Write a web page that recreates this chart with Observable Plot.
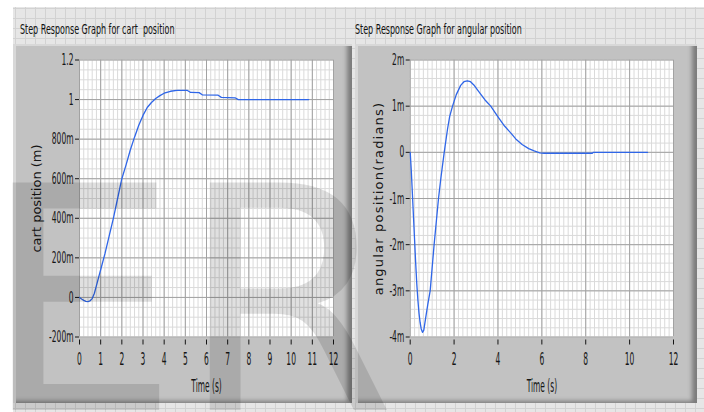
<!DOCTYPE html>
<html>
<head>
<meta charset="utf-8">
<script src="https://cdn.jsdelivr.net/npm/d3@7"></script>
<script src="https://cdn.jsdelivr.net/npm/@observablehq/plot@0.6"></script>
<style>
  html, body { margin: 0; padding: 0; background: #fff; }
  #board { position: relative; width: 704px; height: 412px; overflow: hidden; background: #fff; font-family: "DejaVu Sans", sans-serif; }
  #backdrop { position: absolute; left: 13px; top: 7px; width: 691px; height: 405px; background-color: #e6e6e6;
    background-image: linear-gradient(to right, #d2d2d2 1px, transparent 1px), linear-gradient(to bottom, #d2d2d2 1px, transparent 1px);
    background-size: 10px 10px; background-position: 2px 1px; }
  .frame { position: absolute; top: 44px; height: 359px; background: #c2c2c2;
    box-shadow: inset 4px 3px 0 -1px #d8d8d8, inset -7px -4px 4px -2px #7c7c7c; }
  .frame svg { position: absolute; left: 0; top: 0; }
  #titles, #mark { position: absolute; left: 0; top: 0; pointer-events: none; }
  #titles text { white-space: pre; }
</style>
</head>
<body>
<div id="board">
  <div id="backdrop"></div>
  <div class="frame" id="cartFrame" style="left:13px;width:339px"></div>
  <div class="frame" id="angleFrame" style="left:355px;width:342px"></div>
  <svg id="titles" width="704" height="412" font-family="DejaVu Sans" font-size="14" fill="#111">
    <text x="20" y="34">Step Response Graph for cart  position</text>
    <text x="355" y="34">Step Response Graph for angular position</text>
  </svg>
  <svg id="mark" width="704" height="412">
    <text x="-18" y="410" font-family="DejaVu Sans" font-size="312" fill="#000" fill-opacity="0.12">ER</text>
  </svg>
</div>
<script>
// Cart position step response (metres) against time (s)
const cartTime = [0, 0.1, 0.2, 0.3, 0.4, 0.5, 0.6, 0.7, 0.8, 0.9, 1.0, 1.2, 1.4, 1.6, 1.8, 2.0, 2.2, 2.4, 2.6, 2.8, 3.0, 3.2, 3.4, 3.6, 3.8, 4.0, 4.3, 4.6, 5.1, 5.25, 5.65, 5.8, 6.55, 6.7, 7.35, 7.5, 10.83];
const cartPosition = [0, -0.008, -0.015, -0.02, -0.021, -0.017, -0.006, 0.02, 0.06, 0.1, 0.14, 0.22, 0.31, 0.4, 0.5, 0.6, 0.67, 0.745, 0.81, 0.87, 0.92, 0.96, 0.985, 1.005, 1.02, 1.032, 1.042, 1.046, 1.046, 1.036, 1.035, 1.024, 1.022, 1.011, 1.009, 1.0, 1.0];

// Pendulum angle step response (milliradians) against time (s)
const angleTime = [0, 0.05, 0.1, 0.15, 0.2, 0.25, 0.3, 0.35, 0.4, 0.45, 0.5, 0.56, 0.62, 0.7, 0.8, 0.91, 1.0, 1.09, 1.2, 1.29, 1.4, 1.55, 1.7, 1.8, 1.93, 2.1, 2.3, 2.45, 2.6, 2.75, 2.9, 3.1, 3.4, 3.67, 4.0, 4.3, 4.6, 4.81, 5.1, 5.4, 5.65, 5.9, 6.1, 8.3, 8.35, 10.82];
const angleMilliRad = [0, -0.4, -0.9, -1.4, -1.9, -2.4, -2.85, -3.2, -3.48, -3.68, -3.82, -3.9, -3.85, -3.6, -3.3, -3.0, -2.5, -2.0, -1.45, -1.0, -0.55, 0, 0.5, 0.78, 1.0, 1.25, 1.45, 1.53, 1.55, 1.53, 1.46, 1.33, 1.14, 1.0, 0.77, 0.57, 0.41, 0.29, 0.17, 0.08, 0.03, -0.01, -0.02, -0.02, 0, 0];

// Axis ticks
const cartTicksX = [0, 1, 2, 3, 4, 5, 6, 7, 8, 9, 10, 11, 12];
const cartTicksY = [-0.2, 0, 0.2, 0.4, 0.6, 0.8, 1, 1.2];
const angleTicksX = [0, 2, 4, 6, 8, 10, 12];
const angleTicksY = [-0.004, -0.003, -0.002, -0.001, 0, 0.001, 0.002];

const cartRows = cartTime.map((t, i) => ({t, v: cartPosition[i]}));
const angleRows = angleTime.map((t, i) => ({t, v: angleMilliRad[i] / 1000}));

// engineering-style labels: 800m, 1, 1.2, -2m
function engFormat(v) {
  if (Math.abs(v) < 1e-12) return "0";
  if (Math.abs(v) >= 1) return d3.format("~g")(v);
  return `${Math.round(v * 1000)}m`;
}

const Y_TICK_SQUISH = 0.47, X_TICK_SQUISH = 0.42, AXIS_SQUISH = 0.44, TITLE_SQUISH = 0.57;

function squish(text, factor) {
  const w = text.getComputedTextLength();
  text.setAttribute("textLength", (w * factor).toFixed(1));
  text.setAttribute("lengthAdjust", "spacingAndGlyphs");
}

function panel(opts) {
  const {rows, width, marginLeft, marginRight, xDomain, yDomain, xTicks, yTicks, xMinor, yMinor, yLabel, yLabelDx} = opts;
  return Plot.plot({
    width, height: 359,
    marginLeft, marginRight, marginTop: 15.5, marginBottom: 66.5,
    style: {background: "transparent", fontFamily: "DejaVu Sans", color: "#151515", overflow: "visible"},
    x: {domain: xDomain},
    y: {domain: yDomain},
    marks: [
      Plot.frame({fill: "white", stroke: "none"}),
      Plot.gridX(xMinor, {stroke: "#dadada", strokeOpacity: 1}),
      Plot.gridY(yMinor, {stroke: "#dadada", strokeOpacity: 1}),
      Plot.gridX(xTicks, {stroke: "#a2a2a2", strokeOpacity: 1}),
      Plot.gridY(yTicks, {stroke: "#a2a2a2", strokeOpacity: 1}),
      Plot.line(rows, {x: "t", y: "v", stroke: "#2f66e8", strokeWidth: 1.3}),
      Plot.axisY(yTicks, {anchor: "left", tickSize: 4, tickPadding: 2, tickFormat: engFormat, fontSize: 16, label: null, ariaLabel: "y-axis"}),
      Plot.axisX(xTicks, {anchor: "bottom", tickSize: 5, tickPadding: 7, dy: 3, tickFormat: d => String(d), fontSize: 18, label: null, ariaLabel: "x-axis"}),
      Plot.text([yLabel], {text: d => d, frameAnchor: "left", textAnchor: "middle", lineAnchor: "middle", rotate: -90, dx: yLabelDx, fontSize: 13}),
      Plot.text(["Time (s)"], {text: d => d, frameAnchor: "bottom", textAnchor: "middle", lineAnchor: "middle", dy: 50, fontSize: 17})
    ]
  });
}

function finish(svg, xTicks, yLabel, yLabelSpacing) {
  const xLabels = new Set(xTicks.map(String));
  for (const t of svg.querySelectorAll("text")) {
    const s = t.textContent;
    if (s === yLabel) {
      if (yLabelSpacing) t.style.letterSpacing = yLabelSpacing;
    } else if (s === "Time (s)") {
      squish(t, AXIS_SQUISH);
    } else if (xLabels.has(s) && t.closest("g").getAttribute("text-anchor") !== "end") {
      squish(t, X_TICK_SQUISH);
    } else {
      squish(t, Y_TICK_SQUISH);
    }
  }
}

const cartSvg = panel({
  rows: cartRows, width: 339, marginLeft: 66, marginRight: 19,
  xDomain: [0, 12], yDomain: [-0.2, 1.2],
  xTicks: cartTicksX, yTicks: cartTicksY,
  xMinor: d3.range(0, 12.001, 0.2), yMinor: d3.range(-0.2, 1.2001, 0.05),
  yLabel: "cart position (m)", yLabelDx: -43
});
document.getElementById("cartFrame").append(cartSvg);
finish(cartSvg, cartTicksX, "cart position (m)", null);

const angleSvg = panel({
  rows: angleRows, width: 342, marginLeft: 54.7, marginRight: 24,
  xDomain: [0, 12], yDomain: [-0.004, 0.002],
  xTicks: angleTicksX, yTicks: angleTicksY,
  xMinor: d3.range(0, 12.001, 0.2), yMinor: d3.range(-0.004, 0.00201, 0.0002),
  yLabel: "angular position(radians)", yLabelDx: -31
});
document.getElementById("angleFrame").append(angleSvg);
finish(angleSvg, angleTicksX, "angular position(radians)", "1.2px");

for (const t of document.querySelectorAll("#titles text")) squish(t, TITLE_SQUISH);
</script>
</body>
</html>
